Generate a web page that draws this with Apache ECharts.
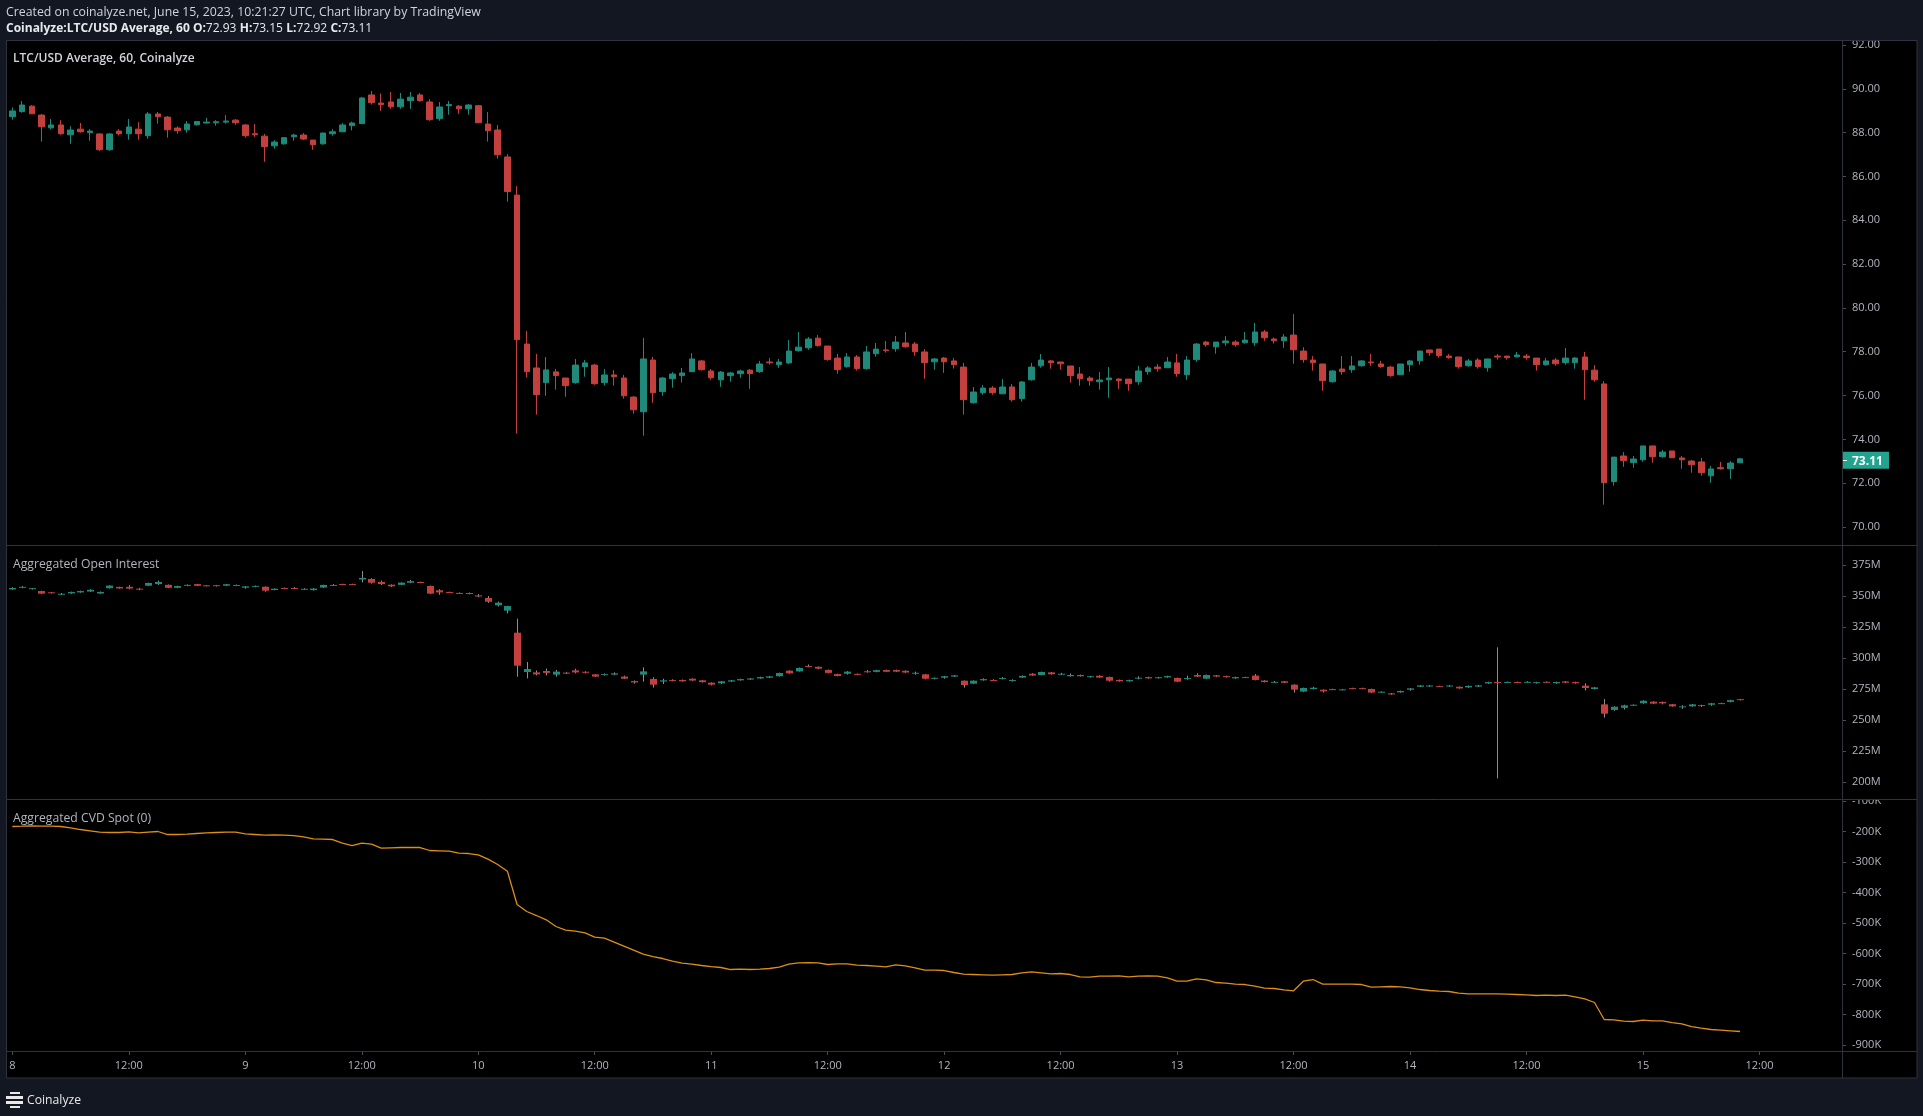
<!DOCTYPE html>
<html><head><meta charset="utf-8">
<script src="https://cdn.jsdelivr.net/npm/echarts@6/dist/echarts.min.js"></script>
<style>html,body{margin:0;padding:0;background:#131722;overflow:hidden}#c{width:1923px;height:1116px}</style>
</head><body><div id="c"></div><script>
// ---- tick labels (every 12 hours) ----
const tickLabels = ['8','12:00','9','12:00','10','12:00','11','12:00','12','12:00','13','12:00','14','12:00','15','12:00'];
const startDay = 8, slotCount = 189; // hourly slots shown on the time axis
const priceTicks = {min: 70, max: 92, step: 2};
const oiTicks = {min: 200, max: 375, step: 25};
const cvdTicks = {min: -900, max: -100, step: 100};

// ---- LTC/USD hourly candles (June 8 00:00 -> June 15 10:00 UTC) ----
const ltcOpen = [88.73,88.96,89.21,88.80,88.22,88.35,87.90,88.16,88.00,87.94,87.22,88.07,87.95,88.16,87.86,88.85,88.71,88.21,88.13,88.36,
88.44,88.45,88.48,88.57,88.35,87.95,87.84,87.40,87.49,87.81,87.89,87.66,87.49,87.95,88.04,88.32,88.41,89.72,89.35,89.40,
89.18,89.46,89.72,89.40,88.64,89.23,89.21,89.09,89.23,88.39,88.12,86.89,85.15,78.35,77.26,76.59,77.08,76.80,76.59,77.32,
77.39,76.59,76.94,76.80,75.93,75.26,77.62,76.18,76.77,76.91,77.09,77.58,77.12,76.72,76.91,77.00,77.16,77.09,77.53,77.41,
77.49,78.05,78.18,78.62,78.26,77.71,77.32,77.76,77.23,77.91,78.08,78.14,78.40,78.35,77.99,77.54,77.71,77.58,77.30,75.67,
76.13,76.34,76.08,76.39,75.86,76.72,77.36,77.58,77.53,77.35,76.98,76.80,76.63,76.72,76.75,76.75,76.63,77.09,77.30,77.27,
77.49,76.95,77.64,78.44,78.23,78.41,78.44,78.41,78.41,78.90,78.58,78.50,78.76,78.03,77.62,77.44,76.63,77.21,77.18,77.36,
77.53,77.44,77.30,76.95,77.41,77.59,78.08,78.12,77.80,77.76,77.36,77.62,77.27,77.80,77.80,77.77,77.80,77.71,77.41,77.62,
77.50,77.50,77.76,77.16,76.53,72.07,73.24,72.94,73.07,73.70,73.21,73.47,73.15,73.01,72.97,72.34,72.71,72.66,72.93];
const ltcClose = [88.99,89.26,88.86,88.27,88.35,87.95,88.12,88.04,88.07,87.22,87.94,87.95,88.26,87.95,88.85,88.73,88.13,88.09,88.39,88.51,
88.48,88.50,88.53,88.45,87.86,87.90,87.36,87.57,87.77,87.89,87.71,87.45,87.98,88.04,88.35,88.44,89.58,89.37,89.28,89.18,
89.53,89.62,89.46,88.59,89.17,89.28,89.09,89.26,88.45,88.09,86.99,85.31,78.55,77.09,76.04,77.17,76.91,76.45,77.39,77.49,
76.54,76.94,76.86,75.99,75.35,77.67,76.13,76.80,76.98,77.03,77.67,77.18,76.81,77.07,77.03,77.12,77.00,77.44,77.50,77.53,
78.03,78.21,78.58,78.28,77.64,77.18,77.76,77.23,77.99,78.12,78.05,78.44,78.23,78.00,77.50,77.67,77.54,77.41,75.81,76.16,
76.34,76.13,76.39,75.81,76.62,77.30,77.62,77.50,77.45,76.91,76.77,76.68,76.71,76.80,76.68,76.54,77.12,77.26,77.23,77.53,
77.00,77.62,78.35,78.32,78.44,78.49,78.32,78.53,78.90,78.64,78.50,78.67,78.09,77.64,77.50,76.68,77.12,77.09,77.35,77.58,
77.50,77.32,76.91,77.44,77.58,78.03,77.96,77.82,77.73,77.32,77.58,77.32,77.67,77.76,77.73,77.85,77.73,77.41,77.58,77.45,
77.71,77.71,77.18,76.72,72.02,73.19,73.03,73.10,73.70,73.21,73.42,73.16,73.07,72.84,72.48,72.65,72.66,72.92,73.11];
const ltcLow = [88.59,88.91,88.86,87.59,88.15,87.90,87.49,88.00,87.63,87.17,87.17,87.87,87.68,87.68,87.72,88.41,87.77,87.95,88.00,88.32,
88.41,88.32,88.41,88.36,87.77,87.81,86.67,87.27,87.45,87.63,87.66,87.22,87.45,87.86,88.03,88.10,88.41,89.28,89.00,89.09,
89.09,89.09,89.41,88.54,88.54,88.82,88.86,88.82,88.45,87.59,86.81,84.85,74.26,76.82,75.13,75.99,76.27,75.95,76.54,76.86,
76.49,76.45,76.45,75.86,75.17,74.17,75.67,75.99,76.36,76.59,77.07,77.14,76.72,76.40,76.63,76.81,76.31,77.04,77.41,77.27,
77.44,78.00,78.09,78.23,77.59,77.00,77.27,77.14,77.18,77.77,77.96,78.00,78.18,77.82,76.77,77.18,77.04,77.23,75.13,75.63,
76.04,76.04,76.08,75.72,75.72,76.68,77.27,77.23,77.18,76.59,76.45,76.45,76.27,75.90,76.31,76.22,76.49,76.95,77.09,77.27,
76.86,76.72,77.54,78.23,77.91,78.27,78.23,78.37,78.27,78.50,78.37,78.18,77.45,77.50,77.14,76.22,76.59,76.95,77.04,77.32,
77.36,77.27,76.86,76.95,77.09,77.41,77.82,77.73,77.68,77.23,77.32,77.23,77.09,77.64,77.64,77.73,77.64,77.14,77.36,77.36,
77.41,77.23,75.81,76.63,71.02,71.89,72.75,72.71,72.98,72.94,73.16,73.16,72.66,72.48,72.34,72.02,72.62,72.20,72.92];
const ltcHigh = [89.15,89.44,89.25,88.85,88.62,88.57,88.29,88.44,88.16,87.97,87.98,88.16,88.62,88.48,88.94,88.94,88.76,88.29,88.53,88.53,
88.67,88.57,88.80,88.62,88.39,88.39,87.94,87.66,87.80,87.95,87.98,87.66,88.00,88.16,88.44,88.50,89.62,89.90,89.78,89.85,
89.81,89.85,89.81,89.53,89.40,89.44,89.26,89.31,89.26,88.94,88.35,87.02,85.56,78.95,77.90,77.76,77.21,76.80,77.67,77.62,
77.44,77.21,77.16,76.94,75.98,78.63,77.76,76.85,77.07,77.26,77.94,77.62,77.21,77.12,77.07,77.18,77.21,77.58,77.71,77.67,
78.53,78.90,78.67,78.76,78.26,77.90,77.94,77.85,78.26,78.40,78.49,78.72,78.90,78.44,78.12,77.71,77.76,77.71,77.49,76.39,
76.48,76.43,76.75,76.53,76.66,77.49,77.90,77.62,77.53,77.35,77.30,76.89,77.07,77.30,76.80,76.75,77.35,77.35,77.44,77.76,
77.90,77.80,78.40,78.49,78.44,78.72,78.53,78.90,79.31,78.99,78.64,78.81,79.72,78.21,77.80,77.44,77.16,77.80,77.80,77.62,
77.90,77.58,77.35,77.44,77.62,78.03,78.08,78.12,77.90,77.76,77.67,77.71,77.67,77.90,77.80,77.99,77.90,77.71,77.71,77.71,
78.17,77.76,77.99,77.39,76.66,73.19,73.42,73.24,73.70,73.70,73.51,73.47,73.24,73.06,73.15,72.78,72.97,73.01,73.15];

// ---- Aggregated Open Interest (millions) ----
const oiOpen = [355.3,356.6,355.5,354.0,353.0,351.3,352.1,352.9,353.6,352.0,356.3,357.3,357.4,355.9,358.3,359.6,359.0,356.6,358.2,359.6,
358.6,358.7,358.3,358.4,356.7,357.4,357.5,354.8,356.4,356.5,355.4,354.7,356.8,358.3,359.7,359.6,363.3,363.7,361.3,359.1,
359.0,360.7,361.3,358.1,354.6,353.2,352.5,352.4,350.5,348.4,342.5,338.2,320.4,288.7,288.4,289.5,286.6,288.2,290.0,288.9,
286.8,286.2,286.6,285.0,281.4,286.6,283.1,281.0,282.2,282.3,283.3,282.0,280.1,279.6,281.0,282.0,282.6,283.5,284.1,285.3,
289.8,289.2,293.6,292.9,290.4,287.0,287.3,287.2,289.3,288.8,290.3,290.3,289.7,287.7,286.8,283.2,284.1,285.0,281.7,279.3,
282.0,282.2,283.4,281.8,284.2,287.3,286.3,288.4,286.9,285.3,286.3,284.5,285.7,284.7,282.3,281.2,283.6,284.6,283.7,284.4,
283.9,283.4,286.3,283.3,286.0,285.4,283.6,284.6,285.8,281.8,280.4,281.2,278.5,272.9,275.0,274.4,274.9,274.3,275.7,275.7,
275.0,272.4,271.5,272.3,274.4,276.8,277.0,277.3,277.0,276.8,276.3,276.9,279.5,280.6,280.1,280.6,280.4,279.7,280.8,279.6,
281.1,280.6,277.7,275.0,262.6,258.1,259.8,261.9,263.5,264.8,264.6,262.7,260.6,261.0,262.0,262.3,263.2,264.6,266.8];
const oiClose = [356.5,357.4,356.3,351.9,352.5,351.8,353.2,354.0,355.0,353.3,358.4,356.1,356.0,355.3,360.5,361.3,356.6,358.0,359.0,358.2,
358.0,357.9,359.5,358.9,357.8,358.2,354.3,355.9,356.0,356.0,355.8,356.0,358.9,358.9,359.1,359.2,364.6,360.7,359.6,357.8,
360.8,362.0,360.8,351.9,352.9,352.8,352.0,351.9,349.6,345.4,344.6,341.9,293.8,291.1,286.8,288.0,289.0,287.7,288.4,288.3,
285.0,287.0,287.6,283.3,280.3,289.2,278.5,282.0,281.8,281.2,281.8,280.5,278.5,281.2,282.0,283.0,283.5,284.6,285.2,287.9,
287.6,292.0,293.0,291.4,288.0,285.5,289.0,286.4,288.8,290.2,288.9,289.0,288.3,288.1,283.3,284.0,285.3,286.0,278.2,281.7,
283.0,281.8,283.8,282.2,285.6,285.9,288.7,286.9,287.3,286.3,285.3,285.3,284.2,281.7,281.2,282.2,284.1,283.6,284.5,285.4,
280.9,283.8,285.0,286.3,285.0,284.5,284.6,284.2,282.3,280.6,280.8,280.0,274.5,275.8,276.0,273.1,274.5,274.7,275.3,275.3,
272.1,272.8,270.6,273.4,275.5,277.9,277.8,276.9,277.8,275.5,277.5,277.9,280.6,280.2,280.7,280.2,280.8,280.5,280.4,280.6,
280.1,279.6,275.8,276.3,255.1,260.7,261.8,262.3,265.5,263.2,263.4,261.0,261.0,262.6,261.6,263.5,263.6,266.0,266.0];
const oiLow = [355.0,356.3,355.3,351.5,352.0,350.8,351.8,352.6,353.3,351.7,356.0,355.9,355.4,354.6,358.0,358.9,356.3,356.3,357.9,358.0,
357.8,357.7,358.0,358.0,355.9,357.1,353.5,354.6,355.8,355.5,355.1,354.4,356.5,358.0,358.9,358.9,361.0,360.0,358.9,357.3,
358.8,360.4,360.5,351.6,351.0,352.4,351.8,351.3,349.0,344.4,341.5,336.0,284.9,283.6,286.0,286.0,285.0,287.2,287.6,287.6,
284.8,285.9,286.1,283.0,279.3,280.9,276.1,279.0,281.2,280.9,281.4,280.2,277.9,279.0,280.7,281.7,282.3,283.2,283.8,285.0,
287.3,289.0,292.5,291.0,287.6,285.2,286.6,286.1,288.2,288.5,288.6,288.7,288.0,286.5,282.9,282.8,283.3,284.7,276.1,279.0,
281.7,281.4,282.8,281.0,283.9,285.6,286.0,286.6,286.3,285.0,285.0,284.2,283.8,281.0,280.9,280.9,282.8,283.3,283.4,284.1,
280.6,282.5,284.7,283.0,284.7,284.2,283.3,283.9,282.0,280.3,280.1,279.7,272.1,272.6,274.7,272.2,274.2,274.0,275.0,275.0,
271.8,272.1,270.3,272.0,273.6,276.5,276.7,276.6,276.7,275.2,276.0,276.6,279.2,203.0,279.8,279.9,280.1,279.4,280.1,279.3,
279.8,279.3,273.8,274.7,251.9,257.5,258.5,261.6,263.2,262.9,262.6,260.7,259.0,260.7,260.5,261.5,262.9,264.3,265.8];
const oiHigh = [357.0,358.0,356.5,354.2,353.2,352.4,353.5,354.3,355.5,353.6,358.6,357.5,358.6,356.6,360.8,362.4,359.3,358.3,359.3,359.8,
358.8,358.9,359.7,359.2,358.0,358.4,357.7,356.1,356.8,357.2,356.3,356.3,359.1,359.6,359.9,359.9,370.1,364.3,362.4,359.4,
361.0,363.0,361.6,358.4,355.5,353.5,352.8,352.8,351.5,350.0,345.5,342.1,331.7,296.8,290.0,291.5,290.4,288.8,291.3,289.3,
287.0,287.5,288.4,285.8,281.9,292.5,284.5,283.3,282.8,282.6,283.6,282.3,280.4,281.5,282.3,283.3,283.8,284.9,285.5,288.2,
290.1,292.3,294.8,293.2,290.7,287.3,289.4,287.5,290.3,290.5,290.6,290.6,290.0,289.0,287.1,284.3,285.6,286.3,282.0,282.0,
283.6,282.8,284.6,282.8,285.9,287.8,289.0,288.7,288.0,287.5,286.6,285.6,286.0,285.0,282.6,282.5,285.2,284.9,284.8,285.7,
284.2,285.8,287.7,286.6,286.3,285.7,284.9,284.9,287.0,282.1,281.4,281.5,278.8,276.1,276.8,274.7,275.2,275.0,276.0,276.0,
275.3,273.1,271.8,273.7,275.8,278.2,278.1,277.6,278.1,277.1,277.8,278.2,280.9,308.6,281.0,280.9,281.2,280.8,281.1,280.9,
281.4,280.9,279.6,276.6,266.9,261.0,262.3,262.6,266.0,265.1,264.9,263.0,261.9,262.9,262.3,263.8,263.9,266.3,267.0];

// ---- Aggregated CVD Spot (thousands) ----
const cvdSpot = [-183.6,-182.6,-181.5,-182.6,-182.6,-183.6,-188.0,-193.5,-197.9,-202.2,-203.3,-203.3,-201.1,-204.4,-202.2,-200.0,-209.9,-209.9,-208.8,-206.6,
-204.4,-203.3,-202.2,-202.2,-207.7,-209.9,-212.1,-211.0,-212.1,-213.2,-217.5,-224.1,-225.2,-226.3,-238.3,-246.0,-238.3,-241.6,-254.7,-253.6,
-252.5,-252.5,-252.5,-262.3,-263.4,-264.5,-271.1,-272.2,-276.5,-290.8,-308.2,-330.1,-439.4,-462.3,-475.5,-489.6,-511.5,-523.5,-526.8,-532.3,
-546.5,-549.8,-562.9,-576.0,-589.1,-602.2,-609.9,-616.4,-625.2,-631.7,-635.0,-639.4,-642.7,-645.9,-652.5,-651.4,-652.5,-651.4,-649.2,-644.8,
-635.0,-630.6,-629.6,-630.6,-636.1,-633.9,-633.9,-638.3,-639.4,-641.6,-643.8,-637.2,-640.5,-647.0,-654.7,-654.7,-655.8,-662.3,-667.8,-668.9,
-670.0,-671.1,-670.0,-668.9,-663.4,-660.1,-663.4,-666.7,-665.6,-668.9,-676.5,-677.6,-674.4,-674.4,-673.3,-676.5,-674.4,-673.3,-674.4,-679.8,
-690.8,-690.8,-683.1,-686.4,-695.1,-697.3,-700.6,-701.7,-707.1,-713.7,-714.8,-719.2,-722.4,-690.8,-685.3,-700.6,-700.6,-700.6,-700.6,-701.7,
-710.4,-709.3,-708.2,-709.3,-712.6,-718.1,-721.3,-723.5,-724.6,-730.1,-732.3,-732.3,-732.3,-732.3,-733.4,-734.5,-735.6,-737.7,-736.6,-737.7,
-736.6,-742.1,-748.7,-760.7,-816.4,-817.5,-821.9,-823.0,-818.6,-820.8,-820.8,-826.3,-830.6,-839.4,-844.9,-849.2,-851.4,-853.6,-855.8];

// ---- build ----
const UP = '#1f8a7a', DOWN = '#c4403f', AXIS_TXT = '#b2b5be', LINE = '#2f333d';
const FONT = '"Open Sans", "Noto Sans", sans-serif';
const categories = [];
for (let i = 0; i < slotCount; i++) {
  const d = startDay + Math.floor(i / 24), h = i % 24;
  categories.push('2023-06-' + String(d).padStart(2, '0') + ' ' + String(h).padStart(2, '0') + ':00');
}
const priceData = ltcOpen.map((o, i) => [o, ltcClose[i], ltcLow[i], ltcHigh[i]]);
const oiData = oiOpen.map((o, i) => [i, o, oiClose[i], oiLow[i], oiHigh[i]]);

const L = 7.5, R = 81;
const grids = [
  {left: L, right: R, top: 45, height: 482},
  {left: L, right: R, top: 565, height: 217},
  {left: L, right: R, top: 801, height: 244}
];
function xAx(gi, show) {
  return {
    type: 'category', gridIndex: gi, data: categories, boundaryGap: true, show: show,
    offset: show ? 6 : 0,
    axisLine: {show: false},
    axisTick: {show: show, alignWithLabel: true, length: 4, interval: (idx) => idx % 12 === 0, lineStyle: {color: '#4a4e59'}},
    axisLabel: {show: show, interval: (idx) => idx % 12 === 0, formatter: (v, idx) => tickLabels[idx / 12] || '',
      color: AXIS_TXT, fontFamily: FONT, fontSize: 11, margin: 9},
    splitLine: {show: false}
  };
}
function yAx(gi, t, fmt) {
  return {
    type: 'value', gridIndex: gi, position: 'right', min: t.min, max: t.max, interval: t.step, scale: true,
    axisLine: {show: false},
    axisTick: {show: true, length: 4, lineStyle: {color: '#4a4e59'}},
    axisLabel: {color: AXIS_TXT, fontFamily: FONT, fontSize: 11, margin: 10, formatter: fmt, padding: [5, 0, 0, 0]},
    splitLine: {show: false}
  };
}
function renderOI(params, api) {
  const x = api.value(0), o = api.value(1), c = api.value(2), lo = api.value(3), hi = api.value(4);
  const pO = api.coord([x, o]), pC = api.coord([x, c]), pL = api.coord([x, lo]), pH = api.coord([x, hi]);
  const w = 7, cx = Math.round(pO[0]) + 0.5;
  const top = Math.min(pO[1], pC[1]);
  const bh = Math.max(1, Math.abs(pO[1] - pC[1]));
  return {type: 'group', children: [
    {type: 'line', shape: {x1: cx, y1: pH[1], x2: cx, y2: pL[1]}, style: {stroke: '#8b8e96', lineWidth: 1}},
    {type: 'rect', shape: {x: cx - w / 2, y: top, width: w, height: bh}, style: {fill: c >= o ? UP : DOWN}}
  ]};
}
const last = ltcOpen.length - 1;
const txt = (id, x, y, text, size, color, weight) => ({id, type: 'text', x, y, z: 20,
  style: {text, fill: color, font: (weight || 'normal') + ' ' + size + 'px ' + FONT, textVerticalAlign: 'middle'}});
const hline = (id, y) => ({id, type: 'line', z: 15, shape: {x1: 7, y1: y, x2: 1917, y2: y}, style: {stroke: LINE, lineWidth: 1}});

const chart = echarts.init(document.getElementById('c'), null, {renderer: 'canvas'});
chart.setOption({
  animation: false,
  backgroundColor: '#131722',
  grid: grids,
  xAxis: [xAx(0, false), xAx(1, false), xAx(2, true)],
  yAxis: [
    yAx(0, priceTicks, (v) => v.toFixed(2)),
    yAx(1, oiTicks, (v) => v + 'M'),
    yAx(2, cvdTicks, (v) => v + 'K')
  ],
  series: [
    {type: 'candlestick', name: 'LTC/USD', xAxisIndex: 0, yAxisIndex: 0, data: priceData, barWidth: 6,
      itemStyle: {color: UP, color0: DOWN, borderColor: UP, borderColor0: DOWN, borderColorDoji: UP, borderWidth: 1}},
    {type: 'custom', name: 'Aggregated Open Interest', xAxisIndex: 1, yAxisIndex: 1, data: oiData,
      renderItem: renderOI, encode: {x: 0, y: [1, 2, 3, 4]}},
    {type: 'line', name: 'Aggregated CVD Spot', xAxisIndex: 2, yAxisIndex: 2, data: cvdSpot, symbol: 'none',
      lineStyle: {color: '#dd8e17', width: 1.3}}
  ],
  graphic: [
    {id: 'bg', type: 'rect', z: -1, shape: {x: 7, y: 40, width: 1910, height: 1038}, style: {fill: '#000'}},
    {id: 'frame', type: 'rect', z: 15, shape: {x: 6.5, y: 40.5, width: 1910.5, height: 1037.5}, style: {fill: 'none', stroke: LINE, lineWidth: 1}},
    {id: 'cover', type: 'rect', z: 14, shape: {x: 1843, y: 789, width: 73, height: 10}, style: {fill: '#000'}},
    hline('s1', 545.5), hline('s2', 799.5), hline('s3', 1051.5),
    {id: 'vsep', type: 'line', z: 15, shape: {x1: 1842.5, y1: 40, x2: 1842.5, y2: 1078}, style: {stroke: LINE, lineWidth: 1}},
    txt('h1', 6, 12.5, 'Created on coinalyze.net, June 15, 2023, 10:21:27 UTC, Chart library by TradingView', 12.3, '#d1d4dc'),
    {id: 'h2', type: 'text', x: 6, y: 28.5, z: 20, style: {
      text: '{b|Coinalyze:LTC/USD Average, 60 O:}{n|' + ltcOpen[last].toFixed(2) + '} {b|H:}{n|' + ltcHigh[last].toFixed(2) +
        '} {b|L:}{n|' + ltcLow[last].toFixed(2) + '} {b|C:}{n|' + ltcClose[last].toFixed(2) + '}',
      textVerticalAlign: 'middle',
      rich: {b: {fill: '#e6e8ee', fontWeight: 'bold', fontSize: 12, fontFamily: FONT},
             n: {fill: '#e6e8ee', fontWeight: 'normal', fontSize: 12, fontFamily: FONT}}}},
    txt('t1', 13, 58.5, 'LTC/USD Average, 60, Coinalyze', 12, '#d1d4dc', '600'),
    txt('t2', 13, 564.5, 'Aggregated Open Interest', 12.2, AXIS_TXT),
    txt('t3', 13, 818.5, 'Aggregated CVD Spot (0)', 12.2, AXIS_TXT),
    {id: 'logo1', type: 'rect', z: 20, shape: {x: 10, y: 1092, width: 10, height: 2}, style: {fill: '#e8e8e8'}},
    {id: 'logo2', type: 'rect', z: 20, shape: {x: 6, y: 1096, width: 17, height: 3}, style: {fill: '#e8e8e8'}},
    {id: 'logo3', type: 'rect', z: 20, shape: {x: 6, y: 1101, width: 17, height: 3}, style: {fill: '#e8e8e8'}},
    {id: 'logo4', type: 'rect', z: 20, shape: {x: 10, y: 1106, width: 10, height: 2}, style: {fill: '#e8e8e8'}},
    txt('ft', 27, 1101, 'Coinalyze', 12.2, '#e8e8e8')
  ]
});
// last-price badge placed through the price axis scale
const yLast = chart.convertToPixel({yAxisIndex: 0}, ltcClose[last]) + 1.5;
chart.setOption({graphic: [
  {id: 'badge', type: 'rect', z: 30, shape: {x: 1843, y: yLast - 8.5, width: 46, height: 17}, style: {fill: '#22a38f'}},
  {id: 'badgeTick', type: 'line', z: 31, shape: {x1: 1843, y1: Math.round(yLast) + 0.5, x2: 1847, y2: Math.round(yLast) + 0.5}, style: {stroke: '#fff', lineWidth: 1}},
  {id: 'badgeTxt', type: 'text', z: 31, x: 1852, y: yLast + 1.5, style: {text: ltcClose[last].toFixed(2), fill: '#ffffff',
    font: 'bold 12px ' + FONT, textVerticalAlign: 'middle'}}
]});
</script></body></html>
